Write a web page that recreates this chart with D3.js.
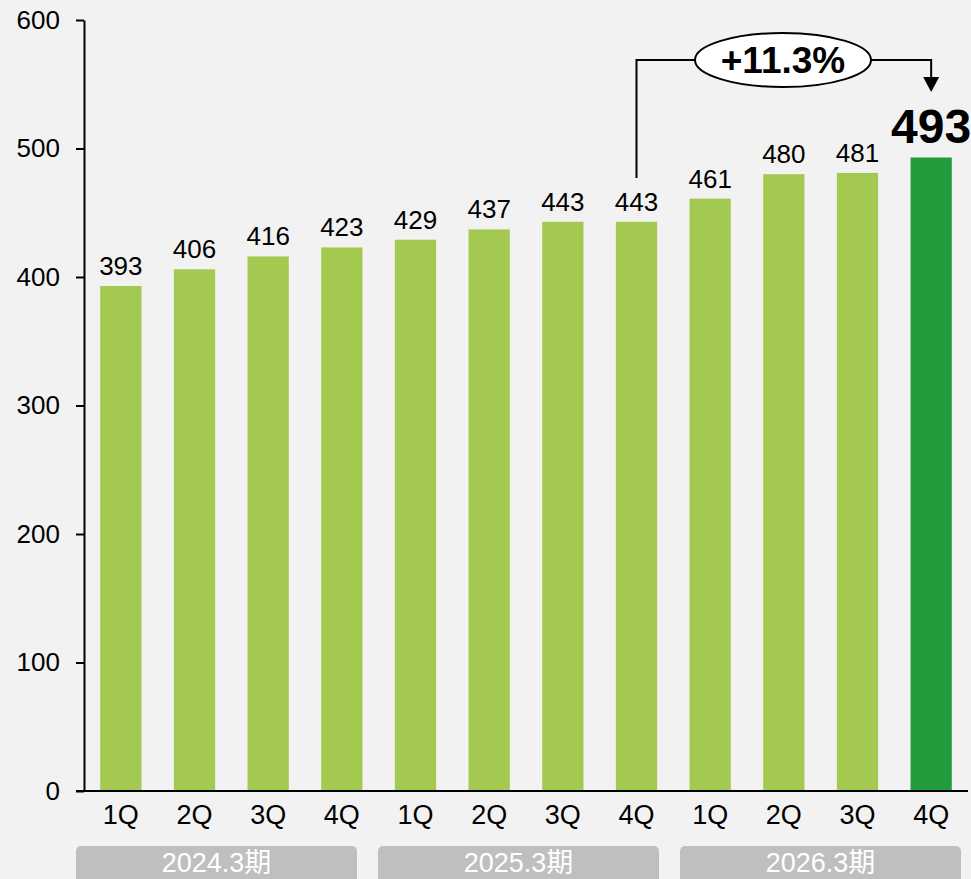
<!DOCTYPE html>
<html>
<head>
<meta charset="utf-8">
<script src="https://cdn.jsdelivr.net/npm/d3@7"></script>
<style>
  html, body { margin: 0; padding: 0; background: #f2f2f2; }
  svg { display: block; font-family: Arial, "Liberation Sans", sans-serif; }
</style>
</head>
<body>
<svg id="chart" width="971" height="879"></svg>
<script>
// データ
var quarters = ['1Q','2Q','3Q','4Q','1Q','2Q','3Q','4Q','1Q','2Q','3Q','4Q'];
var values = [393, 406, 416, 423, 429, 437, 443, 443, 461, 480, 481, 493];
var periods = ['2024.3期', '2025.3期', '2026.3期'];
var yTicks = [0, 100, 200, 300, 400, 500, 600];
var growthLabel = '+11.3%';

var light = '#a3c950', dark = '#239c3e';

var svg = d3.select('#chart');

var x = d3.scaleBand()
    .domain(d3.range(values.length))
    .range([84, 968])
    .paddingInner(0.44)
    .paddingOuter(0.22);

var y = d3.scaleLinear().domain([0, 600]).range([791, 20]);

// y軸
var yAxis = svg.append('g')
    .attr('transform', 'translate(84,0)')
    .call(d3.axisLeft(y).tickValues(yTicks).tickSize(8).tickPadding(16).tickSizeOuter(0));
yAxis.select('.domain').attr('stroke', '#000').attr('stroke-width', 2);
yAxis.selectAll('.tick line').attr('stroke', '#000').attr('stroke-width', 2);
yAxis.selectAll('.tick text').attr('font-size', 26).attr('fill', '#000')
    .attr('font-family', 'Arial, "Liberation Sans", sans-serif');

// 棒
svg.append('g').selectAll('rect').data(values).enter().append('rect')
    .attr('x', function(d, i) { return x(i); })
    .attr('y', function(d) { return y(d); })
    .attr('width', x.bandwidth())
    .attr('height', function(d) { return y(0) - y(d); })
    .attr('fill', function(d, i) { return i === values.length - 1 ? dark : light; });

// x軸
svg.append('line')
    .attr('x1', 76).attr('x2', 968)
    .attr('y1', y(0)).attr('y2', y(0))
    .attr('stroke', '#000').attr('stroke-width', 2);

svg.append('g').selectAll('text').data(quarters).enter().append('text')
    .attr('x', function(d, i) { return x(i) + x.bandwidth() / 2; })
    .attr('y', 824)
    .attr('text-anchor', 'middle')
    .attr('font-size', 27)
    .text(function(d) { return d; });

// 値ラベル
var last = values.length - 1;
svg.append('g').selectAll('text').data(values).enter().append('text')
    .attr('x', function(d, i) { return x(i) + x.bandwidth() / 2; })
    .attr('y', function(d, i) { return y(d) - (i === last ? 14 : 11); })
    .attr('text-anchor', 'middle')
    .attr('font-size', function(d, i) { return i === last ? 48 : 26; })
    .attr('font-weight', function(d, i) { return i === last ? 'bold' : 'normal'; })
    .text(function(d) { return d; });

// 期間ラベル
var boxW = 281, boxStep = 302;
var pg = svg.append('g').selectAll('g').data(periods).enter().append('g')
    .attr('transform', function(d, i) { return 'translate(' + (76 + i * boxStep) + ',846)'; });
pg.append('rect')
    .attr('width', boxW).attr('height', 45)
    .attr('rx', 5).attr('ry', 5)
    .attr('fill', '#bfbfbf');
pg.append('text')
    .attr('x', boxW / 2).attr('y', 26)
    .attr('text-anchor', 'middle')
    .attr('font-size', 27)
    .attr('fill', '#fff')
    .attr('font-family', 'Arial, "Liberation Sans", "Noto Sans CJK JP", sans-serif')
    .text(function(d, i) { return d; });

// 成長率の吹き出し
var fromX = x(7) + x.bandwidth() / 2;
var toX = x(last) + x.bandwidth() / 2;
var lineY = 60;
var ann = svg.append('g');
ann.append('path')
    .attr('d', 'M' + fromX + ',178 V' + lineY + ' H' + toX + ' V78')
    .attr('fill', 'none').attr('stroke', '#000').attr('stroke-width', 2);
ann.append('path')
    .attr('d', 'M' + (toX - 8) + ',77 L' + (toX + 8) + ',77 L' + toX + ',92 Z')
    .attr('fill', '#000');
ann.append('ellipse')
    .attr('cx', 783).attr('cy', lineY)
    .attr('rx', 88).attr('ry', 27)
    .attr('fill', '#fff').attr('stroke', '#000').attr('stroke-width', 2);
ann.append('text')
    .attr('x', 783).attr('y', lineY + 13)
    .attr('text-anchor', 'middle')
    .attr('font-size', 37).attr('font-weight', 'bold')
    .text(growthLabel);
</script>
</body>
</html>
